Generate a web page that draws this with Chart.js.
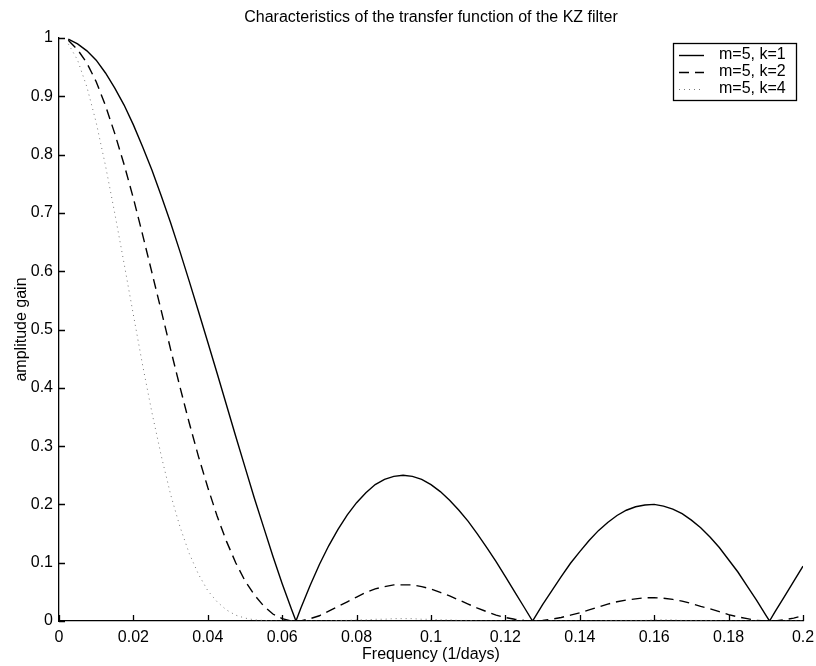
<!DOCTYPE html>
<html>
<head>
<meta charset="utf-8">
<script src="https://cdn.jsdelivr.net/npm/chart.js@4.4.1/dist/chart.umd.min.js"></script>
<style>
  html, body { margin: 0; padding: 0; background: #fff; }
  #wrap { width: 816px; height: 666px; }
</style>
</head>
<body>
<div id="wrap"><canvas id="kzChart" width="816" height="666"></canvas></div>
<script>
// frequency grid (1/days), with the zero crossings added
const freq = [
  0.0025, 0.005, 0.0075, 0.01, 0.0125, 0.015, 0.0175, 0.02, 0.0225, 0.025,
  0.0275, 0.03, 0.0325, 0.035, 0.0375, 0.04, 0.0425, 0.045, 0.0475, 0.05,
  0.0525, 0.055, 0.0575, 0.06, 0.0625, 0.0637, 0.065, 0.0675, 0.07, 0.0725,
  0.075, 0.0775, 0.08, 0.0825, 0.085, 0.0875, 0.09, 0.0925, 0.095, 0.0975,
  0.1, 0.1025, 0.105, 0.1075, 0.11, 0.1125, 0.115, 0.1175, 0.12, 0.1225,
  0.125, 0.1273, 0.1275, 0.13, 0.1325, 0.135, 0.1375, 0.14, 0.1425, 0.145,
  0.1475, 0.15, 0.1525, 0.155, 0.1575, 0.16, 0.1625, 0.165, 0.1675, 0.17,
  0.1725, 0.175, 0.1775, 0.18, 0.1825, 0.185, 0.1875, 0.19, 0.191, 0.1925,
  0.195, 0.1975, 0.2
];

// amplitude gain, m=5, k=1
const gainK1 = [
  0.998, 0.990, 0.978, 0.962, 0.940, 0.914, 0.885, 0.851, 0.813, 0.773,
  0.729, 0.683, 0.634, 0.583, 0.531, 0.478, 0.425, 0.371, 0.317, 0.264,
  0.211, 0.161, 0.111, 0.064, 0.020, 0, 0.022, 0.061, 0.097, 0.129,
  0.157, 0.182, 0.203, 0.220, 0.234, 0.243, 0.248, 0.250, 0.248, 0.243,
  0.234, 0.222, 0.207, 0.190, 0.171, 0.149, 0.126, 0.102, 0.076, 0.050,
  0.024, 0, 0.002, 0.028, 0.052, 0.076, 0.099, 0.119, 0.138, 0.155,
  0.169, 0.181, 0.190, 0.196, 0.199, 0.200, 0.197, 0.192, 0.184, 0.173,
  0.160, 0.144, 0.126, 0.105, 0.084, 0.060, 0.036, 0.010, 0, 0.016,
  0.042, 0.068, 0.094
];

// amplitude gain, m=5, k=2
const gainK2 = [
  0.996, 0.980, 0.957, 0.925, 0.884, 0.836, 0.783, 0.725, 0.662, 0.597,
  0.532, 0.466, 0.402, 0.340, 0.282, 0.229, 0.180, 0.137, 0.100, 0.069,
  0.045, 0.026, 0.012, 0.004, 0.000, 0, 0.000, 0.004, 0.009, 0.017,
  0.025, 0.033, 0.041, 0.049, 0.055, 0.059, 0.062, 0.062, 0.062, 0.059,
  0.055, 0.049, 0.043, 0.036, 0.029, 0.022, 0.016, 0.010, 0.006, 0.003,
  0.001, 0, 0.000, 0.001, 0.003, 0.006, 0.010, 0.014, 0.019, 0.024,
  0.029, 0.033, 0.036, 0.038, 0.040, 0.040, 0.039, 0.037, 0.034, 0.030,
  0.025, 0.021, 0.016, 0.011, 0.007, 0.004, 0.001, 0.000, 0, 0.000,
  0.002, 0.005, 0.009
];

// amplitude gain, m=5, k=4
const gainK4 = [
  0.990, 0.962, 0.916, 0.855, 0.781, 0.699, 0.613, 0.525, 0.438, 0.357,
  0.283, 0.217, 0.162, 0.116, 0.080, 0.052, 0.033, 0.019, 0.010, 0.005,
  0.002, 0.001, 0, 0, 0, 0, 0, 0, 0, 0,
  0.001, 0.001, 0.002, 0.002, 0.003, 0.003, 0.004, 0.004, 0.004, 0.003,
  0.003, 0.002, 0.002, 0.001, 0.001, 0, 0, 0, 0, 0,
  0, 0, 0, 0, 0, 0, 0, 0, 0, 0,
  0.001, 0.001, 0.001, 0.001, 0.001, 0.002, 0.002, 0.002, 0.001, 0.001,
  0.001, 0.001, 0, 0, 0, 0, 0, 0, 0, 0,
  0, 0, 0
];

const seriesLabels = ['m=5, k=1', 'm=5, k=2', 'm=5, k=4'];

const xTickValues = [0, 0.02, 0.04, 0.06, 0.08, 0.1, 0.12, 0.14, 0.16, 0.18, 0.2];
const xTickLabels = ['0', '0.02', '0.04', '0.06', '0.08', '0.1', '0.12', '0.14', '0.16', '0.18', '0.2'];
const yTickValues = [0, 0.1, 0.2, 0.3, 0.4, 0.5, 0.6, 0.7, 0.8, 0.9, 1];
const yTickLabels = ['0', '0.1', '0.2', '0.3', '0.4', '0.5', '0.6', '0.7', '0.8', '0.9', '1'];

function toPoints(values) {
  return freq.map(function (f, i) { return { x: f, y: values[i] }; });
}

Chart.defaults.font.family = 'Arial, "Liberation Sans", Helvetica, sans-serif';
Chart.defaults.font.size = 16;
Chart.defaults.color = '#000';

// matlab-style ticks pointing into the plot
const innerTicks = {
  id: 'innerTicks',
  afterDatasetsDraw(chart) {
    const ctx = chart.ctx;
    const xs = chart.scales.x, ys = chart.scales.y;
    const area = chart.chartArea;
    ctx.save();
    ctx.strokeStyle = '#000';
    ctx.lineWidth = 1.3;
    ctx.beginPath();
    xTickValues.forEach(function (v) {
      const px = Math.round(xs.getPixelForValue(v)) + 0.5;
      ctx.moveTo(px, area.bottom);
      ctx.lineTo(px, area.bottom - 6);
    });
    yTickValues.forEach(function (v) {
      const py = Math.round(ys.getPixelForValue(v)) + 0.5;
      ctx.moveTo(area.left, py);
      ctx.lineTo(area.left + 6, py);
    });
    ctx.stroke();
    ctx.restore();
  }
};

// boxed legend in the upper right corner of the axes
const boxLegend = {
  id: 'boxLegend',
  afterDraw(chart) {
    const ctx = chart.ctx;
    const left = 673, top = 43, width = 123, height = 57;
    ctx.save();
    ctx.fillStyle = '#fff';
    ctx.fillRect(left, top, width, height);
    ctx.strokeStyle = '#000';
    ctx.lineWidth = 1.3;
    ctx.strokeRect(left + 0.5, top + 0.5, width, height);
    ctx.font = '16px Arial, "Liberation Sans", sans-serif';
    ctx.textBaseline = 'middle';
    chart.data.datasets.forEach(function (ds, i) {
      const y = top + 12 + i * 17;
      ctx.strokeStyle = ds.borderColor;
      ctx.lineWidth = ds.borderWidth;
      ctx.setLineDash(ds.borderDash || []);
      ctx.beginPath();
      ctx.moveTo(left + 6, y + 0.5);
      ctx.lineTo(left + 31, y + 0.5);
      ctx.stroke();
      ctx.setLineDash([]);
      ctx.fillStyle = '#000';
      ctx.fillText(ds.label, left + 46, y);
    });
    ctx.restore();
  }
};

const ctx = document.getElementById('kzChart').getContext('2d');
const kzChart = new Chart(ctx, {
  type: 'line',
  data: {
    datasets: [
      {
        label: seriesLabels[0],
        data: toPoints(gainK1),
        borderColor: '#000',
        borderWidth: 1.4,
        pointRadius: 0,
        tension: 0
      },
      {
        label: seriesLabels[1],
        data: toPoints(gainK2),
        borderColor: '#000',
        borderWidth: 1.4,
        borderDash: [10, 6],
        pointRadius: 0,
        tension: 0
      },
      {
        label: seriesLabels[2],
        data: toPoints(gainK4),
        borderColor: '#777',
        borderWidth: 1,
        borderDash: [1, 4],
        pointRadius: 0,
        tension: 0
      }
    ]
  },
  options: {
    responsive: false,
    animation: false,
    layout: { padding: { left: 14, right: 13, top: 0, bottom: 0 } },
    plugins: {
      legend: { display: false },
      tooltip: { enabled: false },
      title: {
        display: true,
        text: 'Characteristics of the transfer function of the KZ filter',
        fullSize: false,
        font: { size: 16, weight: 'normal', lineHeight: 1.2 },
        padding: { top: 8, bottom: 10.8 }
      }
    },
    scales: {
      x: {
        type: 'linear',
        min: 0,
        max: 0.2,
        afterBuildTicks(scale) {
          scale.ticks = xTickValues.map(function (v) { return { value: v }; });
        },
        afterFit(scale) {
          scale.height = 45;
          scale.paddingLeft = 0;
          scale.paddingRight = 0;
        },
        ticks: {
          padding: 7,
          maxRotation: 0,
          autoSkip: false,
          callback: function (value, index) { return xTickLabels[index]; }
        },
        grid: { drawOnChartArea: false, drawTicks: false },
        border: { color: '#000', width: 1.3 },
        title: {
          display: true,
          text: 'Frequency (1/days)',
          font: { size: 16, lineHeight: 1 },
          padding: { top: 0, bottom: 3 }
        }
      },
      y: {
        type: 'linear',
        min: 0,
        max: 1,
        afterBuildTicks(scale) {
          scale.ticks = yTickValues.map(function (v) { return { value: v }; });
        },
        afterFit(scale) {
          scale.width = 45;
          scale.paddingTop = 0;
          scale.paddingBottom = 0;
        },
        ticks: {
          padding: 6,
          autoSkip: false,
          callback: function (value, index) { return yTickLabels[index]; }
        },
        grid: { drawOnChartArea: false, drawTicks: false },
        border: { color: '#000', width: 1.3 },
        title: {
          display: true,
          text: 'amplitude gain',
          font: { size: 16, lineHeight: 1 },
          padding: 0
        }
      }
    }
  },
  plugins: [innerTicks, boxLegend]
});
</script>
</body>
</html>
